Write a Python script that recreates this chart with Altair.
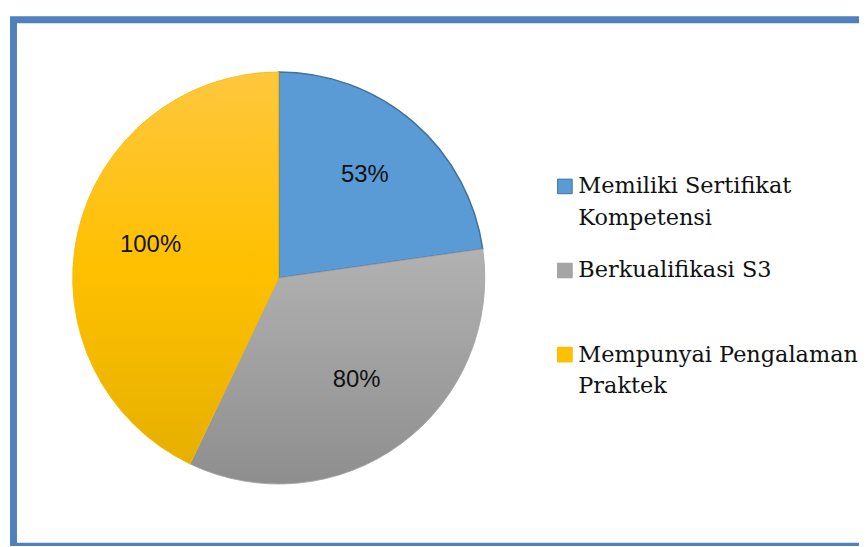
import math
import altair as alt
import pandas as pd

# ---- data ----
categories = ["Memiliki Sertifikat Kompetensi", "Berkualifikasi S3", "Mempunyai Pengalaman Praktek"]
legend_labels = ["Memiliki Sertifikat\nKompetensi", "Berkualifikasi S3", "Mempunyai Pengalaman\nPraktek"]
values = [53, 80, 100]
value_labels = ["53%", "80%", "100%"]
order = [0, 1, 2]

df = pd.DataFrame({
    "cat": categories,
    "legend": legend_labels,
    "value": values,
    "label": value_labels,
    "order": order,
})

# ---- styling ----
CX, CY, R = 272, 270, 207
W, H = 855, 538
FRAME = "#4f81bd"
flat_colors = ["#5b9bd5", "#a5a5a5", "#ffc000"]
fills = [
    "#5b9bd5",
    alt.Gradient(gradient="linear",
                 stops=[alt.GradientStop(color="#b2b2b2", offset=0),
                        alt.GradientStop(color="#8e8e8e", offset=1)],
                 x1=0, x2=0, y1=0, y2=1),
    alt.Gradient(gradient="linear",
                 stops=[alt.GradientStop(color="#ffc73e", offset=0),
                        alt.GradientStop(color="#ffc000", offset=0.5),
                        alt.GradientStop(color="#e6b000", offset=1)],
                 x1=0, x2=0, y1=0, y2=1),
]
strokes = ["#41719c", "#a0a0a0", "#f2b800"]
stroke_w = [1.5, 0.8, 0.8]

theta_scale = alt.Scale(domain=[0, 1], range=[0, 2 * math.pi])

base = (
    alt.Chart(df)
    .transform_joinaggregate(total="sum(value)")
    .transform_window(cum="sum(value)", sort=[alt.SortField("order")], frame=[None, 0])
    .transform_calculate(
        t0="(datum.cum - datum.value) / datum.total",
        t1="datum.cum / datum.total",
        tm="(datum.cum - datum.value / 2) / datum.total",
    )
)

frame = alt.Chart(pd.DataFrame({"k": [0]})).mark_rect(
    filled=False, stroke=FRAME, strokeWidth=7
).encode(x=alt.value(5.5), x2=alt.value(W + 20), y=alt.value(10.5), y2=alt.value(539.5))

arcs = []
for i in order:
    arcs.append(
        base.transform_filter(alt.datum.order == i)
        .mark_arc(radius=R, fill=fills[i], stroke=strokes[i], strokeWidth=stroke_w[i])
        .encode(
            theta=alt.Theta("t0:Q", scale=theta_scale),
            theta2="t1:Q",
            x=alt.value(CX),
            y=alt.value(CY),
        )
    )

labels = base.mark_text(
    font="Liberation Sans", fontSize=24, color="#111111", align="center", baseline="middle", dy=-4
).encode(
    theta=alt.Theta("tm:Q", scale=theta_scale),
    radius=alt.value(132),
    x=alt.value(CX),
    y=alt.value(CY),
    text="label:N",
)

ypos = alt.Y("cat:N", scale=alt.Scale(domain=categories, range=[178, 347], padding=0), axis=None)

swatches = alt.Chart(df).mark_square(size=215, opacity=1, strokeWidth=1).encode(
    x=alt.value(559.5),
    y=ypos,
    fill=alt.Color("cat:N", scale=alt.Scale(domain=categories, range=flat_colors), legend=None),
    stroke=alt.Stroke("cat:N", scale=alt.Scale(domain=categories, range=strokes), legend=None),
)

legend_text = alt.Chart(df).mark_text(
    align="left", baseline="alphabetic", dy=7, font="DejaVu Serif", fontSize=22.5,
    lineHeight=32, lineBreak="\n", color="#111111"
).encode(
    x=alt.value(573),
    y=ypos,
    text="legend:N",
)

chart = alt.layer(frame, *arcs, labels, swatches, legend_text).properties(
    width=W, height=H, autosize=alt.AutoSizeParams(type="none"), padding=0, background="white"
).configure_view(stroke=None)

chart.save("out.html", embed_options={"renderer": "svg", "actions": False})
